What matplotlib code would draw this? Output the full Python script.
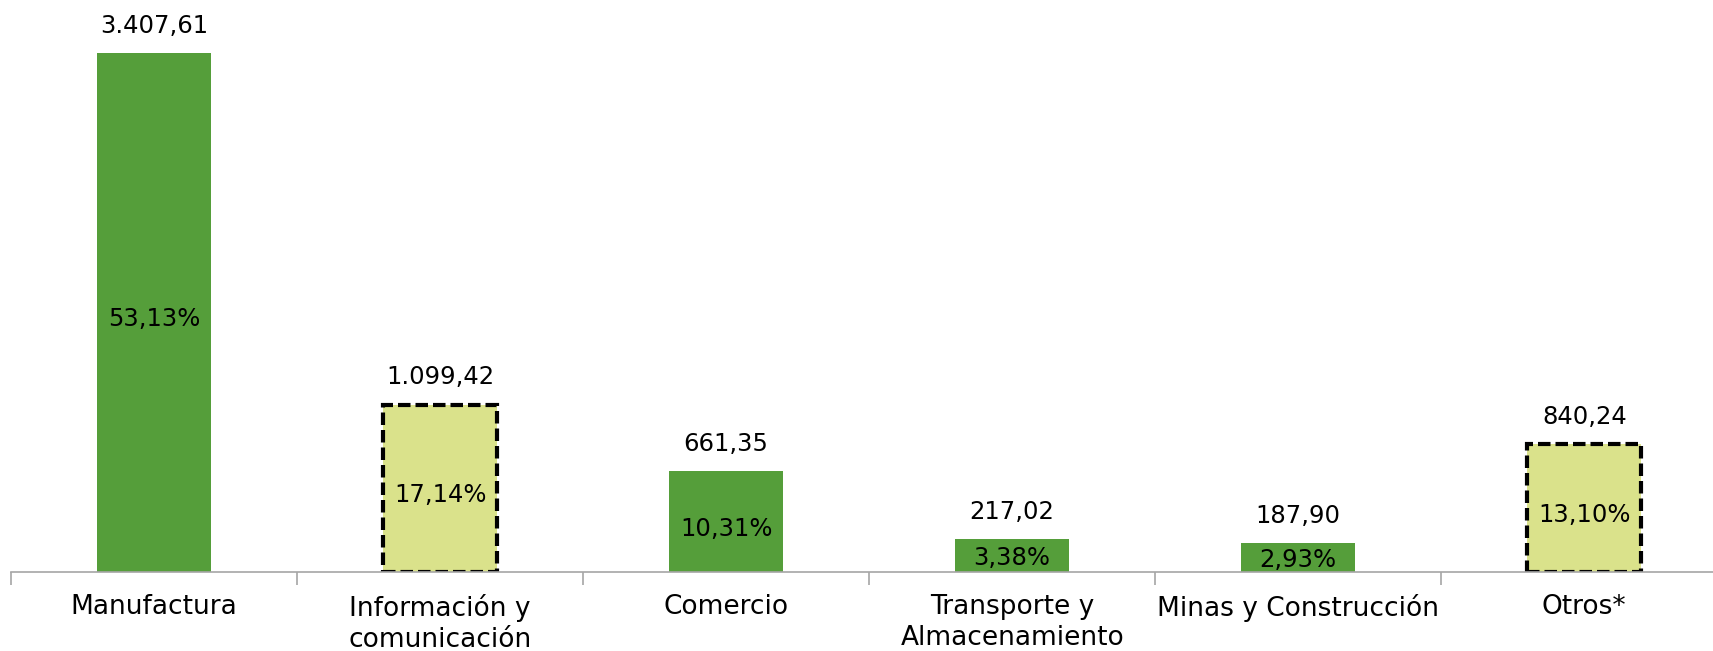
import matplotlib
matplotlib.use("Agg")

import numpy as np
import matplotlib.pyplot as plt

# Datos del grafico
categorias = ["Manufactura", "Información y\ncomunicación", "Comercio",
              "Transporte y\nAlmacenamiento", "Minas y Construcción", "Otros*"]
valores = [3407.61, 1099.42, 661.35, 217.02, 187.90, 840.24]
porcentajes = ["53,13%", "17,14%", "10,31%", "3,38%", "2,93%", "13,10%"]
etiquetas_valor = ["3.407,61", "1.099,42", "661,35", "217,02", "187,90", "840,24"]
resaltadas = [False, True, False, False, False, True]

VERDE = "#559E3A"
AMARILLO = "#DAE28B"
GRIS = "#A6A6A6"

plt.rcParams['font.family'] = ['DejaVu Sans']

fig = plt.figure(figsize=(17.13, 6.51), dpi=100)
ax = fig.add_axes([11 / 1713, 79 / 651, 1702 / 1713, 572 / 651])
escala = 0.1523  # px por unidad

x = np.arange(len(categorias))

for i, (v, res) in enumerate(zip(valores, resaltadas)):
    if res:
        ax.bar(x[i], v, width=0.4, color=AMARILLO, edgecolor="black",
               linewidth=3, linestyle=(0, (3, 1.2)), zorder=2)
    else:
        ax.bar(x[i], v, width=0.4, color=VERDE, edgecolor="none", zorder=2)

    # valor arriba
    ax.annotate(etiquetas_valor[i], (x[i], v), xytext=(0, 11),
                textcoords="offset points", ha="center", va="bottom",
                fontsize=17.5, color="black")
    # porcentaje en el centro (un poco mas abajo, como en el original)
    baja = min(5.0, v * escala * 0.06)
    ax.annotate(porcentajes[i], (x[i], v / 2), xytext=(0, -baja),
                textcoords="offset points", ha="center", va="center",
                fontsize=17.5, color="black", zorder=3)

ax.set_xlim(-0.5, 5.45)
ax.set_ylim(0, 572 / escala)

for s in ["top", "right", "left"]:
    ax.spines[s].set_visible(False)
ax.spines["bottom"].set_color(GRIS)
ax.spines["bottom"].set_linewidth(1.2)
ax.set_yticks([])

# marcas en los limites de categoria, etiquetas en el centro
ax.set_xticks(np.arange(-0.5, 5.5, 1.0))
ax.set_xticklabels([])
ax.tick_params(axis="x", which="major", length=9, color=GRIS, width=1.2, direction="out")
ax.set_xticks(x, minor=True)
ax.set_xticklabels(categorias, minor=True, fontsize=19, linespacing=1.25)
ax.tick_params(axis="x", which="minor", length=0, pad=16)

fig.savefig("out.png", dpi=100)
